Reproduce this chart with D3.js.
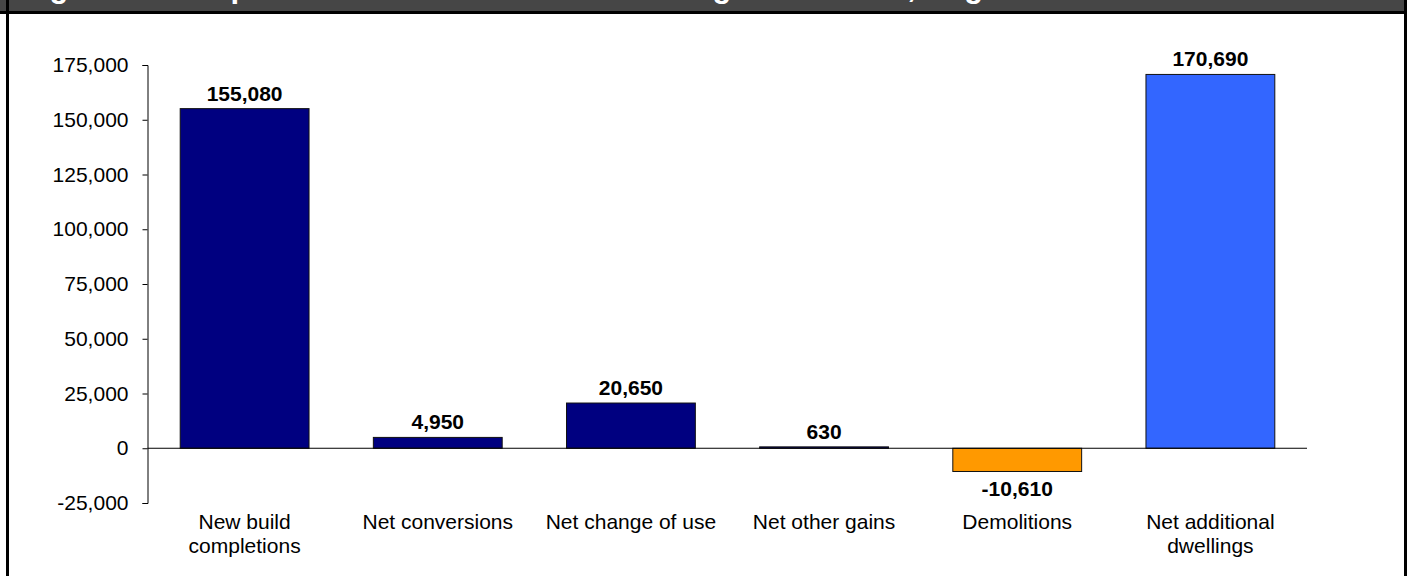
<!DOCTYPE html>
<html>
<head>
<meta charset="utf-8">
<script src="https://cdn.jsdelivr.net/npm/d3@7"></script>
<style>
  html, body { margin: 0; padding: 0; background: #fff; }
  svg { display: block; font-family: "Liberation Sans", Arial, sans-serif; }
</style>
</head>
<body>
<svg id="chart" width="1412" height="576"></svg>
<script>
const titleText = "Figure 2: Components of net additional dwellings in 2014-15, England";
const categories = [
  ["New build", "completions"],
  ["Net conversions"],
  ["Net change of use"],
  ["Net other gains"],
  ["Demolitions"],
  ["Net additional", "dwellings"]
];
const values = [155080, 4950, 20650, 630, -10610, 170690];
const barColors = ["#000080", "#000080", "#000080", "#000080", "#FF9900", "#3366FF"];
const yTicks = [-25000, 0, 25000, 50000, 75000, 100000, 125000, 150000, 175000];

const locale = d3.formatLocale({decimal: ".", thousands: ",", grouping: [3], currency: ["", ""], minus: "-"});
const fmt = locale.format(",");

const svg = d3.select("#chart");
const W = 1412, H = 576;

// frame
svg.append("rect").attr("x", 0).attr("y", 0).attr("width", W).attr("height", H).attr("fill", "#fff");
svg.append("rect").attr("x", 0).attr("y", 0).attr("width", 1407).attr("height", 11).attr("fill", "#464646");
svg.append("text")
  .attr("x", 22).attr("y", -3)
  .attr("fill", "#fff").attr("font-weight", "bold").attr("font-size", 31)
  .text(titleText);
svg.append("rect").attr("x", 0).attr("y", 11).attr("width", 1407).attr("height", 3).attr("fill", "#000");
svg.append("rect").attr("x", 6).attr("y", 0).attr("width", 3).attr("height", H).attr("fill", "#000");
svg.append("rect").attr("x", 1404).attr("y", 0).attr("width", 3).attr("height", H).attr("fill", "#000");

const idx = d3.range(values.length);
const x = d3.scaleBand().domain(idx).range([148, 1307]).paddingInner(0.333).paddingOuter(0.1667);
const y = d3.scaleLinear().domain([-25000, 175000]).range([503, 65]);

// y axis
const yAxis = d3.axisLeft(y).tickValues(yTicks).tickFormat(fmt).tickSize(5).tickPadding(14);
const gy = svg.append("g").attr("transform", "translate(147.5,0)").call(yAxis);
gy.selectAll("path.domain").attr("stroke", "#000").attr("stroke-width", 1);
gy.selectAll(".tick line").attr("stroke", "#000");
gy.selectAll("text").attr("font-size", 21).attr("font-family", "'Liberation Sans', Arial, sans-serif").attr("fill", "#000");

// bars
svg.append("g").selectAll("rect").data(idx).join("rect")
  .attr("x", i => x(i))
  .attr("width", x.bandwidth())
  .attr("y", i => y(Math.max(0, values[i])))
  .attr("height", i => Math.abs(y(values[i]) - y(0)))
  .attr("fill", i => barColors[i])
  .attr("stroke", "#111").attr("stroke-width", 1);

// zero line
svg.append("line")
  .attr("x1", 147.5).attr("x2", 1307)
  .attr("y1", y(0)).attr("y2", y(0))
  .attr("stroke", "#000").attr("stroke-width", 1);

// value labels
svg.append("g").selectAll("text").data(idx).join("text")
  .attr("x", i => x(i) + x.bandwidth() / 2)
  .attr("y", i => values[i] >= 0 ? y(values[i]) - 8 : y(values[i]) + 25)
  .attr("text-anchor", "middle")
  .attr("font-weight", "bold").attr("font-size", 21).attr("fill", "#000")
  .text(i => fmt(values[i]));

// category labels
const cat = svg.append("g").selectAll("text").data(idx).join("text")
  .attr("text-anchor", "middle")
  .attr("font-size", 21).attr("fill", "#000");
cat.each(function(i) {
  const t = d3.select(this);
  categories[i].forEach((line, k) => {
    t.append("tspan")
      .attr("x", x(i) + x.bandwidth() / 2)
      .attr("y", 529 + k * 24)
      .text(line);
  });
});
</script>
</body>
</html>
